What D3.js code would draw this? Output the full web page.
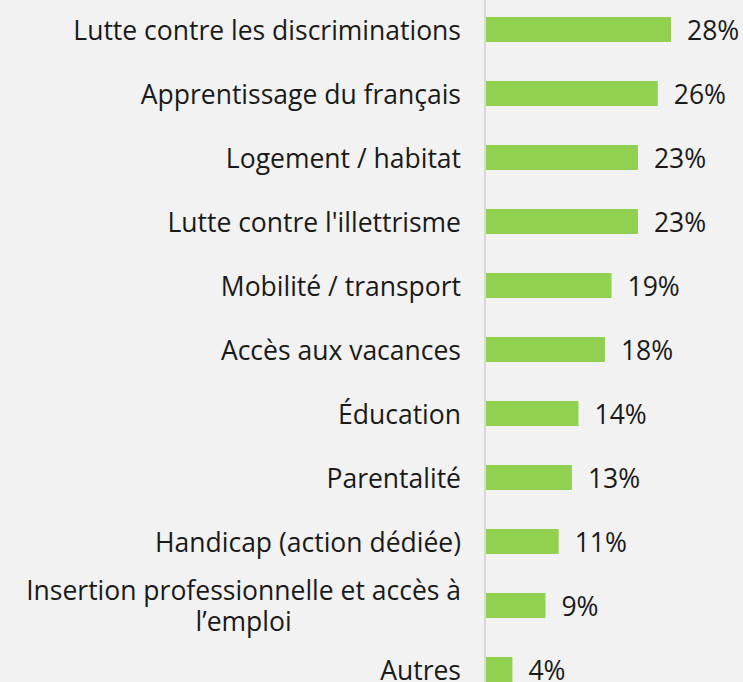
<!DOCTYPE html>
<html>
<head>
<meta charset="utf-8">
<script src="https://cdn.jsdelivr.net/npm/d3@7"></script>
<style>
  html, body { margin: 0; padding: 0; background: #f2f2f2; }
  svg { display: block; font-family: "Open Sans", Lato, sans-serif; }
</style>
</head>
<body>
<div class="chart"></div>
<script>
// Categories, top to bottom
const categories = [
  "Lutte contre les discriminations",
  "Apprentissage du français",
  "Logement / habitat",
  "Lutte contre l'illettrisme",
  "Mobilité / transport",
  "Accès aux vacances",
  "Éducation",
  "Parentalité",
  "Handicap (action dédiée)",
  "Insertion professionnelle et accès à\nl’emploi",
  "Autres"
];
const values = [28, 26, 23, 23, 19, 18, 14, 13, 11, 9, 4];
const valueLabels = ["28%", "26%", "23%", "23%", "19%", "18%", "14%", "13%", "11%", "9%", "4%"];

const W = 743, H = 682;
const margin = { left: 486, top: -2.5 };
const step = 64;

const svg = d3.select('.chart').append('svg')
  .attr('width', W).attr('height', H);

svg.append('rect').attr('width', W).attr('height', H).attr('fill', '#f2f2f2');

const y = d3.scaleBand()
  .domain(d3.range(categories.length))
  .range([margin.top, margin.top + step * categories.length])
  .paddingInner(0.61).paddingOuter(0.305);

const x = d3.scaleLinear().domain([0, 28]).range([margin.left, margin.left + 185]);

// Bars
svg.append('g').selectAll('rect')
  .data(values)
  .join('rect')
    .attr('x', x(0))
    .attr('y', (d, i) => y(i))
    .attr('width', d => x(d) - x(0))
    .attr('height', y.bandwidth())
    .attr('fill', '#92d050');

// Vertical axis line
svg.append('line')
  .attr('x1', margin.left - 1).attr('x2', margin.left - 1)
  .attr('y1', 0).attr('y2', H)
  .attr('stroke', '#d9d9d9').attr('stroke-width', 2);

// Category labels
const fs = 26.5;
const labels = svg.append('g').selectAll('text')
  .data(categories)
  .join('text')
    .attr('fill', '#1a1a1a')
    .attr('font-size', fs)
    .attr('y', (d, i) => y(i) + y.bandwidth() / 2)
    .attr('dominant-baseline', 'central');

labels.each(function (d) {
  const lines = d.split('\n');
  const t = d3.select(this);
  if (lines.length === 1) {
    t.attr('x', 461).attr('text-anchor', 'end').text(d);
  } else {
    // Multi-line label: centred block, right-aligned to the label edge
    t.attr('text-anchor', 'middle');
    const tmp = t.append('tspan').text(lines[0]);
    const w = tmp.node().getComputedTextLength();
    tmp.remove();
    const cx = 461 - w / 2;
    t.attr('x', cx);
    lines.forEach((ln, k) => {
      t.append('tspan')
        .attr('x', cx)
        .attr('dy', k === 0 ? '-0.6em' : '1.18em')
        .text(ln);
    });
  }
});

// Value labels
svg.append('g').selectAll('text')
  .data(values)
  .join('text')
    .attr('fill', '#1a1a1a')
    .attr('font-size', fs)
    .attr('x', d => x(d) + 16)
    .attr('y', (d, i) => y(i) + y.bandwidth() / 2)
    .attr('dominant-baseline', 'central')
    .text((d, i) => valueLabels[i]);
</script>
</body>
</html>
